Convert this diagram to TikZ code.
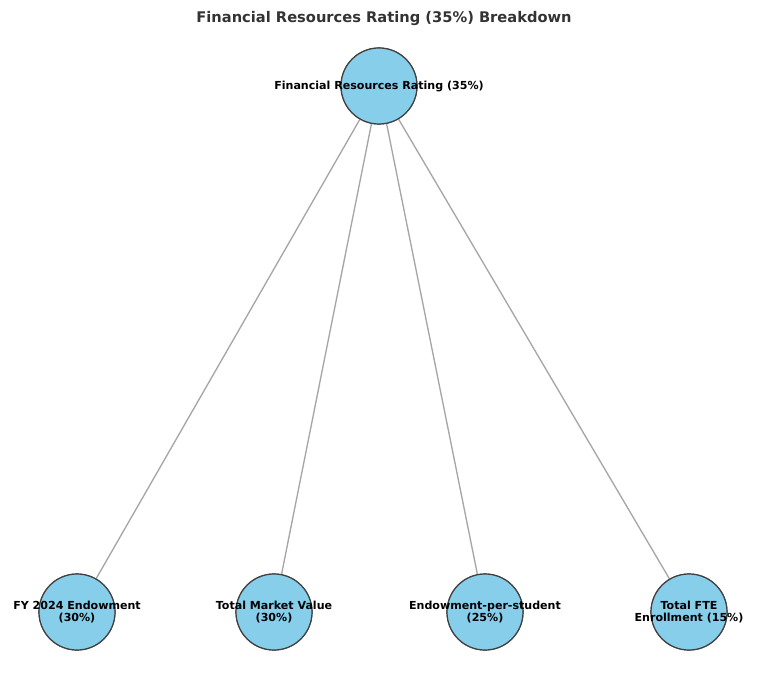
\documentclass[tikz,border=0pt]{standalone}
\usepackage{fontspec}
\setmainfont{DejaVu Sans}
\begin{document}
\begin{tikzpicture}[x=0.75pt,y=-0.75pt,
  circ/.style={circle,draw=black!75,fill=cyan!40!blue!25!white,fill=skyc,line width=0.9pt,minimum size=57pt,inner sep=0pt},
  lab/.style={font=\bfseries\fontsize{8.3}{9.5}\selectfont,align=center,text=black},
  edge/.style={draw=black!35,line width=1pt}]
\definecolor{skyc}{HTML}{87CEEB}
\useasboundingbox (0,0) rectangle (770,684);
\node[font=\bfseries\fontsize{11}{13}\selectfont,text=black!80] (title) at (384,19) {Financial Resources Rating (35\%) Breakdown};
\node[circ] (r) at (379,86) {};
\node[circ] (a) at (77,612) {};
\node[circ] (b) at (274,612) {};
\node[circ] (c) at (485,612) {};
\node[circ] (d) at (689,612) {};
\draw[edge] (r) -- (a);
\draw[edge] (r) -- (b);
\draw[edge] (r) -- (c);
\draw[edge] (r) -- (d);
\node[circ] at (r) {};
\node[circ] at (a) {};
\node[circ] at (b) {};
\node[circ] at (c) {};
\node[circ] at (d) {};
\node[lab] (rl) at (r) {Financial Resources Rating (35\%)};
\node[lab] (al) at (a) {FY 2024 Endowment\\(30\%)};
\node[lab] (bl) at (b) {Total Market Value\\(30\%)};
\node[lab] (cl) at (c) {Endowment-per-student\\(25\%)};
\node[lab] (dl) at (d) {Total FTE\\Enrollment (15\%)};
\end{tikzpicture}
\end{document}
